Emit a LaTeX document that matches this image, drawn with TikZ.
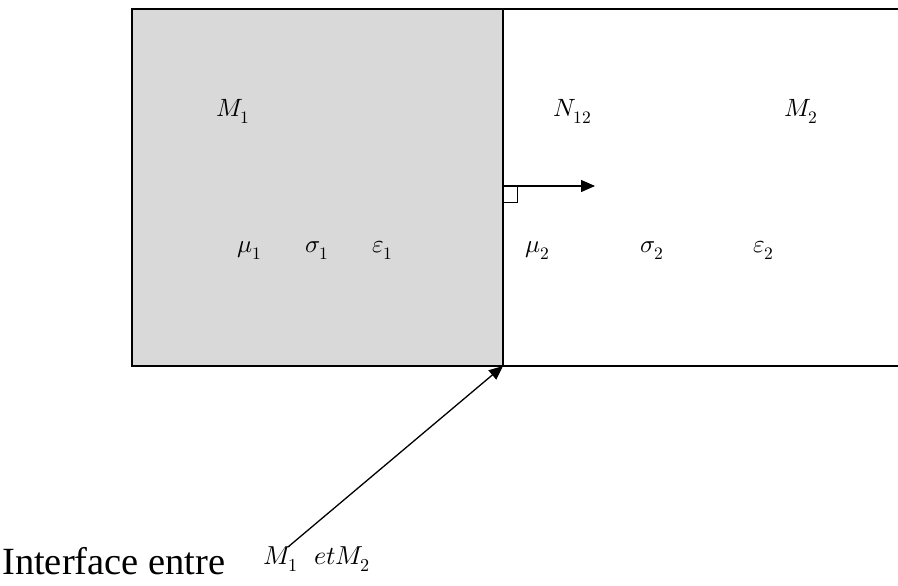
\documentclass[tikz,border=0pt]{standalone}
\usepackage{fontspec}
\usepackage{unicode-math}
\newfontfamily\timesfont{Liberation Serif}
\usetikzlibrary{arrows.meta}
\definecolor{boxgrey}{HTML}{D9D9D9}
\tikzset{
  lbl/.style={inner sep=0pt, anchor=base west, font=\fontsize{25}{29}\selectfont},
  bord/.style={line width=2pt, draw=black},
  edge/.style={line width=1.6pt, draw=black},
  arr/.style={line width=1.3pt, -{Triangle[length=14pt,width=12pt]}},
}
\begin{document}
\begin{tikzpicture}[x=1pt,y=1pt]
\useasboundingbox (0,0) rectangle (898,586);
% corners
\coordinate (tl) at (132,577);
\coordinate (tm) at (503,577);
\coordinate (bm) at (503,220);
\coordinate (bl) at (132,220);
\coordinate (tr) at (898,577);
\coordinate (br) at (898,220);
% grey medium M1
\fill[boxgrey] (tl) rectangle (bm);
\draw[edge] (tm) -- (tr);
\draw[edge] (bm) -- (br);
\draw[bord] (tl) rectangle (bm);
% normal vector
\coordinate (nstart) at (503,400);
\coordinate (nend) at (595,400);
\draw[arr] (nstart) -- (nend);
\draw[line width=1pt] (nstart) rectangle ++(14,-17);
% labels
\node[lbl] (M1) at (216,469) {$M_1$};
\node[lbl] (N12) at (553,469) {$N_{12}$};
\node[lbl] (M2) at (784,469) {$M_2$};
\node[lbl] (mu1) at (237,333) {$\mu_1$};
\node[lbl] (s1) at (305,333) {$\sigma_1$};
\node[lbl] (e1) at (372,333) {$\varepsilon_1$};
\node[lbl] (mu2) at (525,333) {$\mu_2$};
\node[lbl] (s2) at (640,333) {$\sigma_2$};
\node[lbl] (e2) at (753,333) {$\varepsilon_2$};
% interface label
\node[inner sep=0pt, anchor=base west, font=\timesfont\fontsize{38.5}{42}\selectfont] (itf) at (2,11) {Interface entre};
\node[lbl, font=\fontsize{26}{30}\selectfont] (itfm) at (263,21) {$M_1\hspace{16pt}etM_2$};
\coordinate (astart) at (288,39);
\draw[arr] (astart) -- (bm);
\end{tikzpicture}
\end{document}
